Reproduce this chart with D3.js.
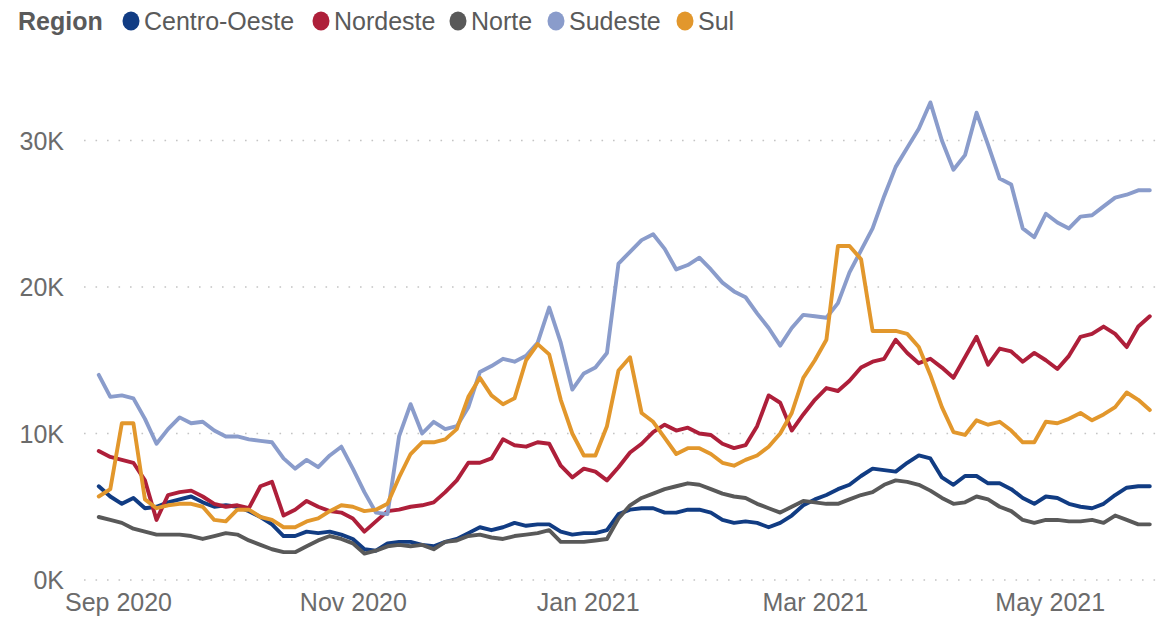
<!DOCTYPE html>
<html><head><meta charset="utf-8">
<script src="https://cdn.jsdelivr.net/npm/d3@7"></script>
<style>
html,body{margin:0;padding:0;background:#fff;}
svg{display:block;}
text{font-family:"Liberation Sans",Arial,sans-serif;}
</style></head>
<body>
<svg id="chart" width="1174" height="620"></svg>
<script>
const dates = ["2020-08-27","2020-08-30","2020-09-02","2020-09-05","2020-09-08","2020-09-11","2020-09-14","2020-09-17","2020-09-20","2020-09-23","2020-09-26","2020-09-29","2020-10-02","2020-10-05","2020-10-08","2020-10-11","2020-10-14","2020-10-17","2020-10-20","2020-10-23","2020-10-26","2020-10-29","2020-11-01","2020-11-04","2020-11-07","2020-11-10","2020-11-13","2020-11-16","2020-11-19","2020-11-22","2020-11-25","2020-11-28","2020-12-01","2020-12-04","2020-12-07","2020-12-10","2020-12-13","2020-12-16","2020-12-19","2020-12-22","2020-12-25","2020-12-28","2020-12-31","2021-01-03","2021-01-06","2021-01-09","2021-01-12","2021-01-15","2021-01-18","2021-01-21","2021-01-24","2021-01-27","2021-01-30","2021-02-02","2021-02-05","2021-02-08","2021-02-11","2021-02-14","2021-02-17","2021-02-20","2021-02-23","2021-02-26","2021-03-01","2021-03-04","2021-03-07","2021-03-10","2021-03-13","2021-03-16","2021-03-19","2021-03-22","2021-03-25","2021-03-28","2021-03-31","2021-04-03","2021-04-06","2021-04-09","2021-04-12","2021-04-15","2021-04-18","2021-04-21","2021-04-24","2021-04-27","2021-04-30","2021-05-03","2021-05-06","2021-05-09","2021-05-12","2021-05-15","2021-05-18","2021-05-21","2021-05-24","2021-05-27"];

const regions = ["Centro-Oeste","Nordeste","Norte","Sudeste","Sul"];

const centroOeste = [6.4,5.7,5.2,5.6,4.9,5.0,5.3,5.5,5.7,5.3,5.0,5.1,5.0,4.7,4.3,3.8,3.0,3.0,3.3,3.2,3.3,3.1,2.8,2.1,2.0,2.5,2.6,2.6,2.4,2.3,2.6,2.8,3.2,3.6,3.4,3.6,3.9,3.7,3.8,3.8,3.3,3.1,3.2,3.2,3.4,4.5,4.8,4.9,4.9,4.6,4.6,4.8,4.8,4.6,4.1,3.9,4.0,3.9,3.6,3.9,4.4,5.1,5.5,5.8,6.2,6.5,7.1,7.6,7.5,7.4,8.0,8.5,8.3,7.0,6.5,7.1,7.1,6.6,6.6,6.2,5.6,5.2,5.7,5.6,5.2,5.0,4.9,5.2,5.8,6.3,6.4,6.4];

const nordeste = [8.8,8.4,8.2,8.0,6.8,4.1,5.8,6.0,6.1,5.7,5.2,5.0,5.1,4.9,6.4,6.7,4.4,4.8,5.4,5.0,4.7,4.6,4.2,3.3,4.0,4.7,4.8,5.0,5.1,5.3,6.0,6.8,8.0,8.0,8.3,9.6,9.2,9.1,9.4,9.3,7.8,7.0,7.6,7.4,6.8,7.7,8.7,9.3,10.1,10.6,10.2,10.4,10.0,9.9,9.3,9.0,9.2,10.5,12.6,12.1,10.2,11.3,12.3,13.1,12.9,13.6,14.5,14.9,15.1,16.4,15.5,14.8,15.1,14.5,13.8,15.2,16.6,14.7,15.8,15.6,14.9,15.5,15.0,14.4,15.3,16.6,16.8,17.3,16.8,15.9,17.3,18.0];

const norte = [4.3,4.1,3.9,3.5,3.3,3.1,3.1,3.1,3.0,2.8,3.0,3.2,3.1,2.7,2.4,2.1,1.9,1.9,2.3,2.7,3.0,2.8,2.5,1.8,2.0,2.3,2.4,2.3,2.4,2.1,2.6,2.7,3.0,3.1,2.9,2.8,3.0,3.1,3.2,3.4,2.6,2.6,2.6,2.7,2.8,4.2,5.1,5.6,5.9,6.2,6.4,6.6,6.5,6.2,5.9,5.7,5.6,5.2,4.9,4.6,5.0,5.4,5.3,5.2,5.2,5.5,5.8,6.0,6.5,6.8,6.7,6.5,6.1,5.6,5.2,5.3,5.7,5.5,5.0,4.7,4.1,3.9,4.1,4.1,4.0,4.0,4.1,3.9,4.4,4.1,3.8,3.8];

const sudeste = [14.0,12.5,12.6,12.4,11.0,9.3,10.3,11.1,10.7,10.8,10.2,9.8,9.8,9.6,9.5,9.4,8.3,7.6,8.2,7.7,8.5,9.1,7.6,6.0,4.6,4.5,9.8,12.0,10.0,10.8,10.3,10.5,11.8,14.2,14.6,15.1,14.9,15.3,16.2,18.6,16.2,13.0,14.1,14.5,15.5,21.6,22.4,23.2,23.6,22.6,21.2,21.5,22.0,21.2,20.3,19.7,19.3,18.2,17.2,16.0,17.2,18.1,18.0,17.9,18.9,21.0,22.5,24.0,26.2,28.2,29.5,30.8,32.6,30.0,28.0,29.0,31.9,29.7,27.4,27.0,24.0,23.4,25.0,24.4,24.0,24.8,24.9,25.5,26.1,26.3,26.6,26.6];

const sul = [5.7,6.2,10.7,10.7,5.5,4.9,5.1,5.2,5.2,5.0,4.1,4.0,4.8,4.8,4.3,4.1,3.6,3.6,4.0,4.2,4.7,5.1,5.0,4.7,4.8,5.2,7.0,8.6,9.4,9.4,9.6,10.3,12.5,13.8,12.6,12.0,12.4,15.0,16.1,15.4,12.3,10.0,8.5,8.5,10.5,14.3,15.2,11.4,10.8,9.7,8.6,9.0,9.0,8.6,8.0,7.8,8.2,8.5,9.1,10.0,11.4,13.8,15.0,16.4,22.8,22.8,21.9,17.0,17.0,17.0,16.8,15.9,14.0,11.8,10.1,9.9,10.9,10.6,10.8,10.2,9.4,9.4,10.8,10.7,11.0,11.4,10.9,11.3,11.8,12.8,12.3,11.6];

const yTicks = [0, 10000, 20000, 30000];
const xTickLabels = ["2020-09-01","2020-11-01","2021-01-01","2021-03-01","2021-05-01"];
const colors = ["#113C83","#AE1F3A","#595959","#8A9CCB","#E2972C"];

const parse = d3.timeParse("%Y-%m-%d");
const seriesVals = [centroOeste, nordeste, norte, sudeste, sul];
const series = regions.map((name, k) => ({
  name, color: colors[k],
  values: dates.map((d, i) => ({date: parse(d), value: seriesVals[k][i] * 1000}))
}));

const svg = d3.select("#chart");

const x = d3.scaleTime()
  .domain([parse("2020-08-27"), parse("2021-05-27")])
  .range([98.75, 1149.8]);
const y = d3.scaleLinear().domain([0, 30000]).range([580, 140.5]);

// gridlines
svg.append("g").selectAll("line").data(yTicks).join("line")
  .attr("x1", 84).attr("x2", 1162)
  .attr("y1", d => y(d)).attr("y2", d => y(d))
  .attr("stroke", "#c4c4c4").attr("stroke-width", 1.6)
  .attr("stroke-dasharray", "1.6 9.9");

// y axis
const yAxis = d3.axisLeft(y).tickValues(yTicks).tickSize(0).tickPadding(0)
  .tickFormat(d => (d / 1000) + "K");
const gy = svg.append("g").attr("transform", "translate(64,0)").call(yAxis);
gy.select(".domain").remove();
gy.selectAll("text").attr("fill", "#6b6b6b").attr("font-size", 25)
  .attr("font-family", '"Liberation Sans",Arial,sans-serif').attr("dy", "0.35em");

// x axis
const xAxis = d3.axisBottom(x).tickValues(xTickLabels.map(parse)).tickSize(0).tickPadding(0)
  .tickFormat(d3.timeFormat("%b %Y"));
const gx = svg.append("g").attr("transform", "translate(0,593)").call(xAxis);
gx.select(".domain").remove();
gx.selectAll("text").attr("fill", "#6b6b6b").attr("font-size", 25)
  .attr("font-family", '"Liberation Sans",Arial,sans-serif').attr("dy", "0.71em");

// lines
const line = d3.line().x(d => x(d.date)).y(d => y(d.value)).curve(d3.curveLinear);
svg.append("g").selectAll("path").data(series).join("path")
  .attr("d", d => line(d.values))
  .attr("fill", "none").attr("stroke", d => d.color)
  .attr("stroke-width", 3.9).attr("stroke-linejoin", "round").attr("stroke-linecap", "round");

// legend
const lg = svg.append("g").attr("transform", "translate(18,21)");
lg.append("text").text("Region").attr("x", 0).attr("y", 0).attr("dy", "0.35em")
  .attr("font-size", 25).attr("font-weight", "bold").attr("fill", "#5a5a5a");
const legX = [131, 321, 458, 556, 685];
const items = lg.selectAll("g.item").data(series).join("g").attr("class", "item")
  .attr("transform", (d, i) => `translate(${legX[i] - 18},0)`);
items.append("ellipse").attr("rx", 8.5).attr("ry", 9.5).attr("cx", 0).attr("cy", 0).attr("fill", d => d.color);
items.append("text").text(d => d.name).attr("x", 13).attr("y", 0).attr("dy", "0.35em")
  .attr("font-size", 25).attr("fill", "#5a5a5a");
</script>
</body></html>
